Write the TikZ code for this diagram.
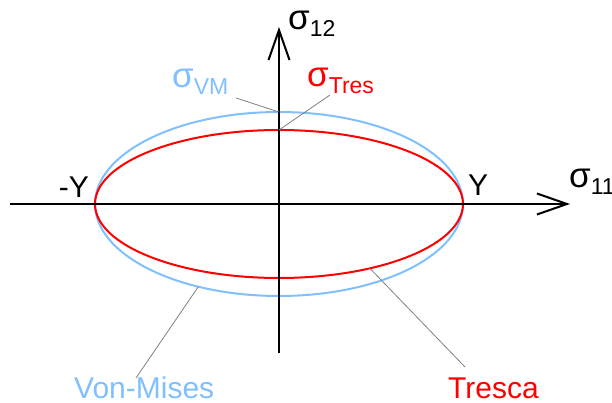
\documentclass[tikz,border=0pt]{standalone}
\usepackage{fontspec}
\setmainfont{Liberation Sans}
\usetikzlibrary{arrows.meta}
\definecolor{VMBlue}{HTML}{80C0FF}
\definecolor{TresRed}{HTML}{FF0000}
\definecolor{LeadGray}{HTML}{808080}
\newcommand{\sig}{{\fontsize{35}{38}\selectfont σ}}
\newcommand{\lowsub}[1]{\raisebox{-7pt}{\fontsize{23}{26}\selectfont #1}}

\begin{document}
\begin{tikzpicture}[x=1pt,y=1pt,
    lbl/.style={inner sep=0pt,font=\fontsize{30}{36}\selectfont},
    axis/.style={line width=2pt,-{Straight Barb[length=30pt,width=21pt]}},
    curve/.style={line width=2pt},
    leader/.style={LeadGray,line width=0.8pt}
  ]
    \useasboundingbox (-279,-199) rectangle (333,204);
    % yield surfaces
    \draw[curve,VMBlue] (0,0) ellipse [x radius=184,y radius=92];
    \draw[curve,TresRed] (0,0) ellipse [x radius=184,y radius=74];
    % axes
    \coordinate (west) at (-269,0);
    \coordinate (east) at (291,0);
    \coordinate (south) at (0,-149);
    \coordinate (north) at (0,177);
    \draw[axis] (west) -- (east);
    \draw[axis] (south) -- (north);
    \node[lbl,anchor=base west] (s11) at (290,16) {\sig\lowsub{11}};
    \node[lbl,anchor=base west] (s12) at (9,174) {\sig\lowsub{12}};
    \node[lbl,anchor=base east] (mY) at (-190,6) {-Y};
    \node[lbl,anchor=base west] (pY) at (189,8) {Y};
    % labels and leaders
    \node[lbl,anchor=base west,VMBlue] (sVM) at (-107,116) {\sig\lowsub{VM}};
    \node[lbl,anchor=base west,TresRed] (sTres) at (28,117) {\sig\lowsub{Tres}};
    \node[lbl,anchor=base west,VMBlue] (vm) at (-205,-194) {Von-Mises};
    \node[lbl,anchor=base west,TresRed] (tr) at (169,-194) {Tresca};
    \coordinate (vmtop) at (0,92);
    \coordinate (trtop) at (0,74);
    \coordinate (vmlow) at ({184*cos(244)},{92*sin(244)});
    \coordinate (trlow) at ({184*cos(299.6)},{74*sin(299.6)});
    \coordinate (vmend) at (-43,106);
    \coordinate (trend) at (51,109);
    \coordinate (vmfoot) at (-143,-174);
    \coordinate (trfoot) at (186,-163);
    \draw[leader] (vmend) -- (vmtop);
    \draw[leader] (trend) -- (trtop);
    \draw[leader] (vmfoot) -- (vmlow);
    \draw[leader] (trfoot) -- (trlow);
\end{tikzpicture}
\end{document}
